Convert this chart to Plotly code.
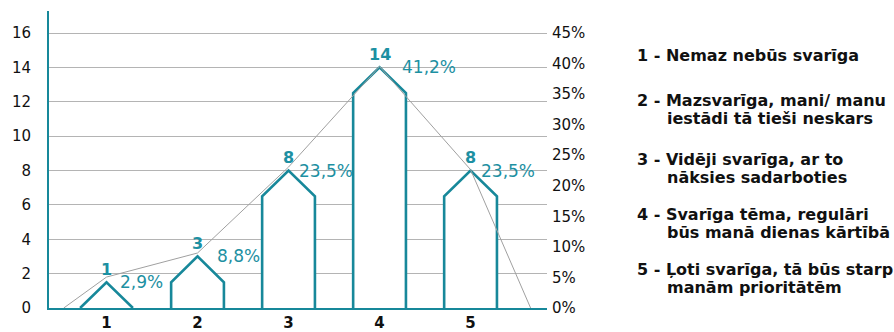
import plotly.graph_objects as go

categories = [1, 2, 3, 4, 5]
counts = [1, 3, 8, 14, 8]
percent_labels = ["2,9%", "8,8%", "23,5%", "41,2%", "23,5%"]
trend_x = [0.53, 1, 2, 3, 4, 5, 5.66]
trend_y = [0, 1.8, 3.2, 8.2, 14.05, 8.05, 0]
left_ticks = [0, 2, 4, 6, 8, 10, 12, 14, 16]
right_ticks = [0, 5, 10, 15, 20, 25, 30, 35, 40, 45]
legend_lines = [
    ("1 - Nemaz nebūs svarīga", None),
    ("2 - Mazsvarīga, mani/ manu", "iestādi tā tieši neskars"),
    ("3 - Vidēji svarīga, ar to", "nāksies sadarboties"),
    ("4 - Svarīga tēma, regulāri", "būs manā dienas kārtībā"),
    ("5 - Ļoti svarīga, tā būs starp", "manām prioritātēm"),
]

# layout-only settings
TEAL = "#17889a"
TEXT_TEAL = "#1d90a2"
FONT = "DejaVu Sans, Verdana, sans-serif"
ROOF = 1.5
HALF = 0.29
YMAX = 17.28
RMAX = 45 * YMAX / 16
pct_xshift = [11, 17, 8, 20, 8]
legend_y_px = [56, 100, 159, 214, 269]
LINE_GAP = 18
W, H = 894, 332
L, R, T, B = 49, 347, 11, 24

fig = go.Figure()

# house-shaped bars
for c, v in zip(categories, counts):
    peak = max(v, ROOF)
    wall = max(v - ROOF, 0)
    xs = [c - HALF, c - HALF, c, c + HALF, c + HALF]
    ys = [0, wall, peak, wall, 0]
    fig.add_trace(go.Scatter(x=xs, y=ys, mode="lines", fill="toself",
                             fillcolor="white",
                             line=dict(color=TEAL, width=2.6),
                             hoverinfo="skip"))

# gray trend line (drawn on top of bars)
fig.add_trace(go.Scatter(x=trend_x, y=trend_y, mode="lines",
                         line=dict(color="#a0a0a0", width=1), hoverinfo="skip"))

# dummy trace for right axis
fig.add_trace(go.Scatter(x=[None], y=[None], yaxis="y2", hoverinfo="skip"))

annotations = []
for c, v, p, dx in zip(categories, counts, percent_labels, pct_xshift):
    peak = max(v, ROOF)
    annotations.append(dict(x=c, y=peak, text=f"<b>{v}</b>", showarrow=False,
                            xanchor="center", yanchor="middle", yshift=13,
                            font=dict(family=FONT, size=16, color=TEXT_TEAL)))
    annotations.append(dict(x=c, y=peak, text=p, showarrow=False,
                            xanchor="left", yanchor="middle", xshift=dx, yshift=0,
                            font=dict(family=FONT, size=17, color=TEXT_TEAL)))


def px_to_paper_y(py):
    return 1 - (py - T) / (H - T - B)


def px_to_paper_x(px):
    return (px - L) / (W - L - R)


for (l1, l2), yc in zip(legend_lines, legend_y_px):
    annotations.append(dict(xref="paper", yref="paper", x=px_to_paper_x(635),
                            y=px_to_paper_y(yc), text=f"<b>{l1}</b>", showarrow=False,
                            xanchor="left", yanchor="middle",
                            font=dict(family=FONT, size=16, color="#111111")))
    if l2:
        annotations.append(dict(xref="paper", yref="paper", x=px_to_paper_x(665),
                                y=px_to_paper_y(yc + LINE_GAP), text=f"<b>{l2}</b>",
                                showarrow=False, xanchor="left", yanchor="middle",
                                font=dict(family=FONT, size=16, color="#111111")))

fig.update_layout(
    width=W, height=H,
    margin=dict(l=L, r=R, t=T, b=B, autoexpand=False),
    paper_bgcolor="white", plot_bgcolor="white",
    showlegend=False,
    annotations=annotations,
    xaxis=dict(range=[0.368, 5.84], tickvals=categories,
               ticktext=[f"<b>{c}</b>" for c in categories],
               showgrid=False, zeroline=False, automargin=False,
               showline=True, linecolor=TEAL, linewidth=2,
               ticks="", ticklabelstandoff=0,
               tickfont=dict(family=FONT, size=15, color="#111111")),
    yaxis=dict(range=[0, YMAX], tickvals=left_ticks, automargin=False,
               showgrid=True, gridcolor="#b4b4b4", gridwidth=1,
               zeroline=False, showline=True, linecolor=TEAL, linewidth=2,
               ticks="", ticklabelstandoff=13,
               tickfont=dict(family=FONT, size=15, color="#111111")),
    yaxis2=dict(range=[0, RMAX], tickvals=right_ticks, automargin=False,
                ticktext=[f"{t}%" for t in right_ticks],
                overlaying="y", side="right", showgrid=False, zeroline=False,
                showline=False, ticks="", ticklabelstandoff=4,
                tickfont=dict(family=FONT, size=15, color="#111111")),
)

fig.write_html("out.html")
